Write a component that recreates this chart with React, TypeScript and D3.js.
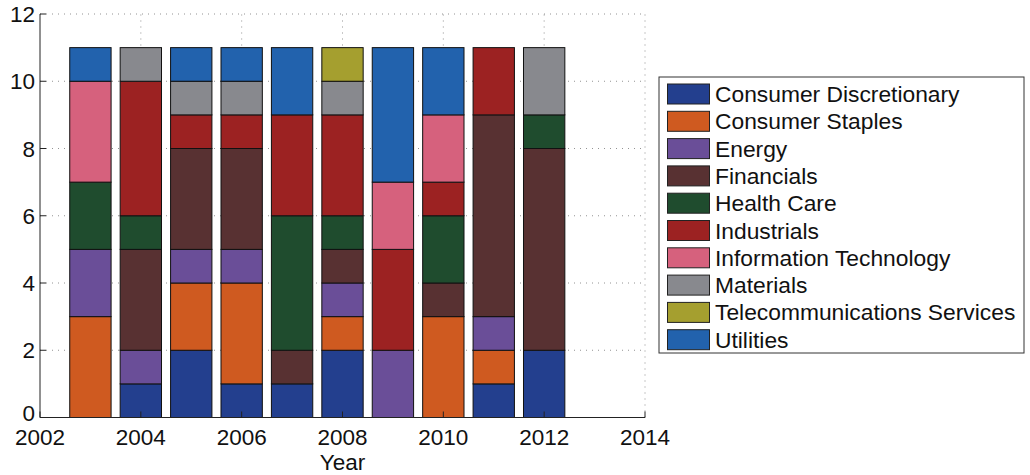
import React from "react";
import * as d3 from "d3";

const years = [2003, 2004, 2005, 2006, 2007, 2008, 2009, 2010, 2011, 2012];
const sectors = [
  "Consumer Discretionary",
  "Consumer Staples",
  "Energy",
  "Financials",
  "Health Care",
  "Industrials",
  "Information Technology",
  "Materials",
  "Telecommunications Services",
  "Utilities",
];
const sectorColors = [
  "#233f8e",
  "#cf5a20",
  "#6a4e98",
  "#583132",
  "#1f4c2e",
  "#9c2222",
  "#d6617d",
  "#88898e",
  "#a59f2f",
  "#2262ad",
];
// counts per sector per year
const consumerDiscretionary = [0, 1, 2, 1, 1, 2, 0, 0, 1, 2];
const consumerStaples = [3, 0, 2, 3, 0, 1, 0, 3, 1, 0];
const energy = [2, 1, 1, 1, 0, 1, 2, 0, 1, 0];
const financials = [0, 3, 3, 3, 1, 1, 0, 1, 6, 6];
const healthCare = [2, 1, 0, 0, 4, 1, 0, 2, 0, 1];
const industrials = [0, 4, 1, 1, 3, 3, 3, 1, 2, 0];
const informationTechnology = [3, 0, 0, 0, 0, 0, 2, 2, 0, 0];
const materials = [0, 1, 1, 1, 0, 1, 0, 0, 0, 2];
const telecommunications = [0, 0, 0, 0, 0, 1, 0, 0, 0, 0];
const utilities = [1, 0, 1, 1, 2, 0, 4, 2, 0, 0];
const seriesValues = [
  consumerDiscretionary,
  consumerStaples,
  energy,
  financials,
  healthCare,
  industrials,
  informationTechnology,
  materials,
  telecommunications,
  utilities,
];
const xTicks = [2002, 2004, 2006, 2008, 2010, 2012, 2014];
const yTicks = [0, 2, 4, 6, 8, 10, 12];

const W = 1030;
const H = 475;
const FONT = "'Liberation Sans', Arial, Helvetica, sans-serif";

export default function App() {
  const x = d3.scaleLinear().domain([2002, 2014]).range([40, 645]);
  const y = d3.scaleLinear().domain([0, 12]).range([417.5, 14]);
  const barW = (x(2003) - x(2002)) * 0.82;

  const table = years.map((yr, i) => {
    const row: any = { year: yr };
    sectors.forEach((s, j) => (row[s] = seriesValues[j][i]));
    return row;
  });
  const stacked = d3.stack<any>().keys(sectors)(table);

  const legendX = 659;
  const legendY = 77;
  const legendW = 365;
  const legendH = 276;
  const rowH = 27.3;
  const firstRow = 94;

  return (
    <svg
      width={W}
      height={H}
      style={{ position: "absolute", left: 0, top: 0, background: "#fff" }}
      fontFamily={FONT}
    >
      {/* grid */}
      <g stroke="#666" strokeWidth={1} strokeDasharray="1,5" opacity={0.7}>
        {yTicks.slice(1).map((t) => (
          <line key={"gy" + t} x1={x(2002)} x2={x(2014)} y1={y(t)} y2={y(t)} />
        ))}
        {xTicks.slice(1).map((t) => (
          <line key={"gx" + t} x1={x(t)} x2={x(t)} y1={y(0)} y2={y(12)} />
        ))}
      </g>
      {/* bars */}
      {stacked.map((layer, j) => (
        <g key={sectors[j]} fill={sectorColors[j]} stroke="#111" strokeWidth={1}>
          {layer.map((d, i) =>
            d[1] - d[0] > 0 ? (
              <rect
                key={i}
                x={x(years[i]) - barW / 2}
                y={y(d[1])}
                width={barW}
                height={y(d[0]) - y(d[1])}
              />
            ) : null
          )}
        </g>
      ))}
      {/* axes */}
      <g stroke="#222" strokeWidth={1} fill="none">
        <line x1={x(2002)} x2={x(2002)} y1={y(0)} y2={y(12)} />
        <line x1={x(2002)} x2={x(2014)} y1={y(0)} y2={y(0)} />
        {yTicks.map((t) => (
          <line key={"ty" + t} x1={x(2002)} x2={x(2002) + 6} y1={y(t)} y2={y(t)} />
        ))}
        {xTicks.map((t) => (
          <line key={"tx" + t} x1={x(t)} x2={x(t)} y1={y(0)} y2={y(0) - 6} />
        ))}
      </g>
      <g fontSize={22.5} fill="#111">
        {yTicks.map((t) => (
          <text key={"ly" + t} x={x(2002) - 5} y={y(t) + (t === 0 ? 3 : 8)} textAnchor="end">
            {t}
          </text>
        ))}
        {xTicks.map((t) => (
          <text key={"lx" + t} x={x(t)} y={445} textAnchor="middle">
            {t}
          </text>
        ))}
        <text x={(x(2002) + x(2014)) / 2} y={470} textAnchor="middle">
          Year
        </text>
      </g>
      {/* legend */}
      <rect
        x={legendX}
        y={legendY}
        width={legendW}
        height={legendH}
        fill="#fff"
        stroke="#333"
        strokeWidth={1}
      />
      {sectors.map((s, j) => (
        <g key={"lg" + s}>
          <rect
            x={667.5}
            y={firstRow + j * rowH - 10}
            width={42}
            height={20}
            fill={sectorColors[j]}
            stroke="#222"
            strokeWidth={1}
          />
          <text x={715} y={firstRow + j * rowH + 8} fontSize={22.8} fill="#111">
            {s}
          </text>
        </g>
      ))}
    </svg>
  );
}
